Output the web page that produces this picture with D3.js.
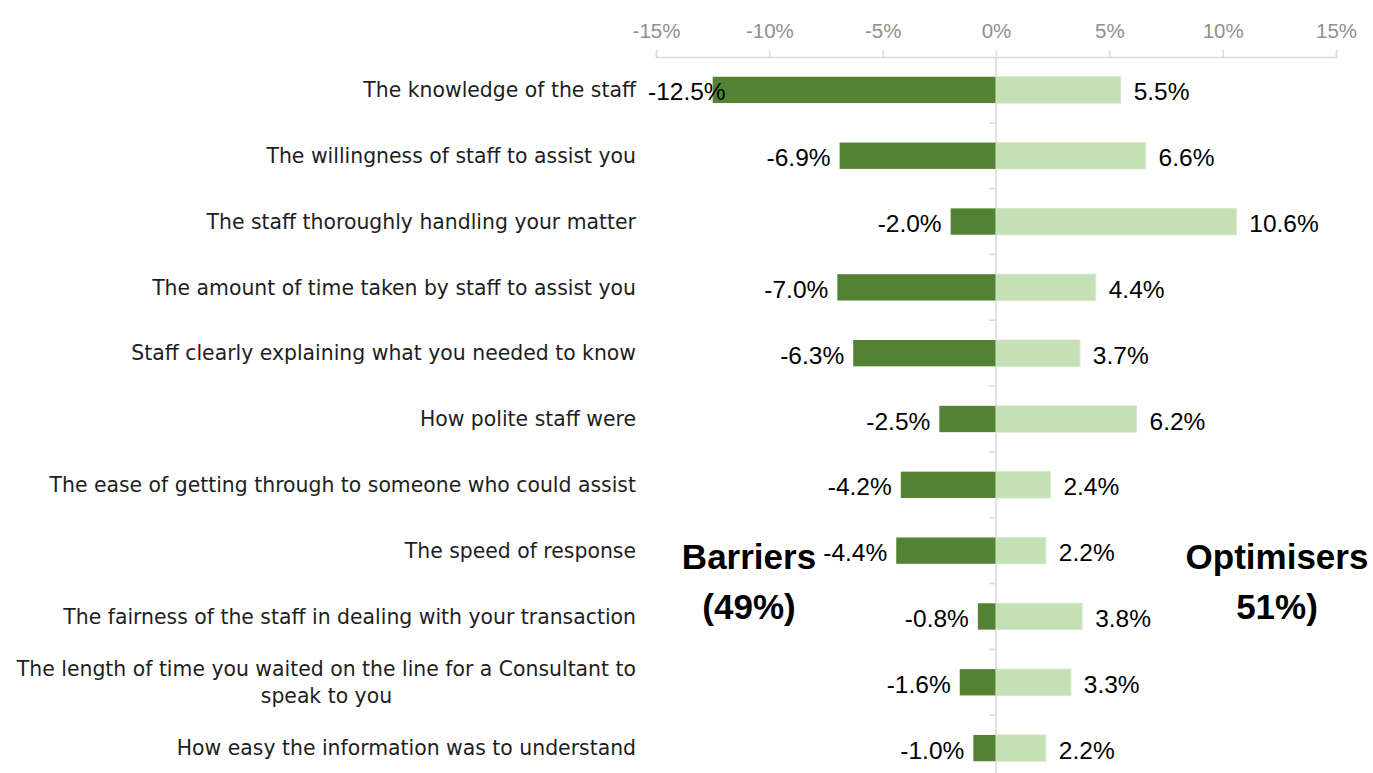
<!DOCTYPE html>
<html>
<head>
<meta charset="utf-8">
<script src="https://cdn.jsdelivr.net/npm/d3@7"></script>
<style>
  html, body { margin: 0; padding: 0; background: #fff; }
  svg { display: block; }
</style>
</head>
<body>
<svg id="chart" width="1373" height="773"></svg>
<script>
// Service attributes, top to bottom
const categories = [
  "The knowledge of the staff",
  "The willingness of staff to assist you",
  "The staff thoroughly handling your matter",
  "The amount of time taken by staff to assist you",
  "Staff clearly explaining what you needed to know",
  "How polite staff were",
  "The ease of getting through to someone who could assist",
  "The speed of response",
  "The fairness of the staff in dealing with your transaction",
  "The length of time you waited on the line for a Consultant to speak to you",
  "How easy the information was to understand"
];
// Share of respondents for whom the attribute is a barrier (negative side)
const barriers = [-12.5, -6.9, -2.0, -7.0, -6.3, -2.5, -4.2, -4.4, -0.8, -1.6, -1.0];
// Share of respondents for whom the attribute is an optimiser (positive side)
const optimisers = [5.5, 6.6, 10.6, 4.4, 3.7, 6.2, 2.4, 2.2, 3.8, 3.3, 2.2];
const xTicks = [-15, -10, -5, 0, 5, 10, 15];
const barrierTitle = ["Barriers", "(49%)"];
const optimiserTitle = ["Optimisers", "51%)"];

const svg = d3.select("#chart");
const plotLeft = 656, plotRight = 1336, plotTop = 57, plotBottom = 781;

const x = d3.scaleLinear().domain([-15, 15]).range([plotLeft, plotRight]);
const y = d3.scaleBand().domain(categories).range([plotTop, plotBottom])
  .paddingInner(0.6).paddingOuter(0.3);

const numFont = "'Liberation Sans', Arial, sans-serif";
const catFont = "'DejaVu Sans', sans-serif";
const catSize = 20.4;

// Top percentage axis
const xAxis = d3.axisTop(x).tickValues(xTicks).tickFormat(d => d + "%")
  .tickSizeInner(7).tickSizeOuter(7).tickPadding(12);
const gx = svg.append("g").attr("transform", `translate(0,${plotTop})`).call(xAxis);
gx.select(".domain").attr("stroke", "#d9d9d9").attr("stroke-width", 1.5);
gx.selectAll(".tick line").attr("stroke", "#d9d9d9").attr("stroke-width", 1.5);
gx.selectAll(".tick text")
  .attr("font-family", numFont).attr("font-size", 20.5).attr("fill", "#8f8f8f");

// Zero line with small ticks between categories
const zeroX = x(0);
svg.append("line")
  .attr("x1", zeroX).attr("x2", zeroX).attr("y1", plotTop).attr("y2", 773)
  .attr("stroke", "#d9d9d9").attr("stroke-width", 1.5);
const boundaries = categories.slice(1).map(c => y(c) - y.step() * y.paddingInner() / 2);
svg.append("g").selectAll("line").data(boundaries).join("line")
  .attr("x1", zeroX - 7).attr("x2", zeroX).attr("y1", d => d).attr("y2", d => d)
  .attr("stroke", "#d9d9d9").attr("stroke-width", 1.5);

// Bars
const bw = y.bandwidth();
svg.append("g").selectAll("rect").data(barriers).join("rect")
  .attr("x", d => x(d)).attr("width", d => zeroX - x(d))
  .attr("y", (d, i) => y(categories[i])).attr("height", bw)
  .attr("fill", "#548235");
svg.append("g").selectAll("rect").data(optimisers).join("rect")
  .attr("x", zeroX).attr("width", d => x(d) - zeroX)
  .attr("y", (d, i) => y(categories[i])).attr("height", bw)
  .attr("fill", "#c5e0b4").attr("stroke", "#d3e8c6").attr("stroke-width", 1);

// Category labels (long ones wrap onto two centred lines)
const catX = plotLeft - 20;
const maxLine = 640;
categories.forEach((c, i) => {
  const cy = y(c) + bw / 2;
  const t = svg.append("text")
    .attr("font-family", catFont).attr("font-size", catSize).attr("fill", "#1e1e1e")
    .attr("text-anchor", "end").attr("x", catX).attr("y", cy).attr("dy", "0.35em")
    .text(c);
  if (t.node().getComputedTextLength() > maxLine) {
    const words = c.split(" ");
    let line1 = [], rest = [];
    const probe = svg.append("text").attr("font-family", catFont).attr("font-size", catSize);
    for (const w of words) {
      probe.text([...line1, w].join(" "));
      if (rest.length === 0 && probe.node().getComputedTextLength() <= maxLine) line1.push(w);
      else rest.push(w);
    }
    probe.text(line1.join(" "));
    const w1 = probe.node().getComputedTextLength();
    probe.remove();
    const mid = catX - w1 / 2;
    const lh = 27;
    t.text(null).attr("text-anchor", "middle").attr("y", null).attr("dy", null);
    t.append("tspan").attr("x", mid).attr("y", cy - lh / 2).attr("dy", "0.35em").text(line1.join(" "));
    t.append("tspan").attr("x", mid).attr("y", cy + lh / 2).attr("dy", "0.35em").text(rest.join(" "));
  }
});

// Value labels
const fmt = v => (v < 0 ? "-" : "") + Math.abs(v).toFixed(1) + "%";
const labelMinX = plotLeft - 8;
barriers.forEach((v, i) => {
  const cy = y(categories[i]) + bw / 2 + 2;
  const t = svg.append("text")
    .attr("font-family", numFont).attr("font-size", 24.5).attr("fill", "#000")
    .attr("text-anchor", "end").attr("x", x(v) - 9).attr("y", cy).attr("dy", "0.35em")
    .text(fmt(v));
  const w = t.node().getComputedTextLength();
  if (x(v) - 9 - w < labelMinX) t.attr("text-anchor", "start").attr("x", labelMinX);
});
optimisers.forEach((v, i) => {
  const cy = y(categories[i]) + bw / 2 + 2;
  svg.append("text")
    .attr("font-family", numFont).attr("font-size", 24.5).attr("fill", "#000")
    .attr("text-anchor", "start").attr("x", x(v) + 13).attr("y", cy).attr("dy", "0.35em")
    .text(fmt(v));
});

// Side headings
function heading(lines, cx) {
  svg.append("g").selectAll("text").data(lines).join("text")
    .attr("font-family", numFont).attr("font-weight", "bold").attr("font-size", 35)
    .attr("fill", "#000").attr("text-anchor", "middle")
    .attr("x", cx).attr("y", (d, i) => 569 + i * 50)
    .text(d => d);
}
heading(barrierTitle, 749);
heading(optimiserTitle, 1277);
</script>
</body>
</html>
